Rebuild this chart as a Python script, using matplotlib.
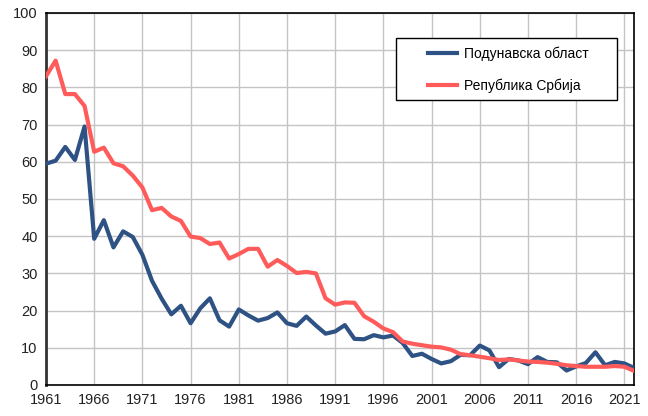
import matplotlib
matplotlib.use("Agg")
import matplotlib.pyplot as plt
from matplotlib.patches import Rectangle

plt.rcParams['font.family'] = ['Liberation Sans', 'DejaVu Sans']

years = list(range(1961, 2023))
podunavska = [59.5, 60.3, 64.0, 60.5, 69.5, 39.3, 44.3, 37.0, 41.3, 39.8,
              35.0, 28.0, 23.2, 19.0, 21.3, 16.6, 20.6, 23.3, 17.4, 15.7,
              20.3, 18.7, 17.3, 18.0, 19.5, 16.6, 15.9, 18.4, 16.0, 13.8,
              14.4, 16.1, 12.4, 12.3, 13.4, 12.8, 13.3, 11.3, 7.8, 8.4,
              7.0, 5.8, 6.4, 8.1, 8.0, 10.6, 9.3, 4.8, 7.0, 6.6,
              5.6, 7.5, 6.2, 6.1, 3.9, 5.0, 5.9, 8.8, 5.3, 6.2,
              5.8, 4.6]
srbija = [83.0, 87.2, 78.2, 78.2, 75.0, 62.7, 63.8, 59.6, 58.8, 56.3,
          53.1, 47.0, 47.6, 45.3, 44.1, 39.9, 39.5, 37.9, 38.3, 34.0,
          35.2, 36.6, 36.6, 31.8, 33.6, 32.0, 30.1, 30.4, 30.0, 23.3,
          21.6, 22.2, 22.1, 18.5, 17.0, 15.2, 14.2, 11.7, 11.1, 10.7,
          10.3, 10.1, 9.5, 8.3, 8.0, 7.6, 7.2, 6.7, 6.9, 6.6,
          6.3, 6.2, 6.0, 5.7, 5.3, 5.1, 4.9, 4.9, 4.9, 5.1,
          4.9, 3.8]
labels = ['Подунавска област', 'Република Србија']
xticks = list(range(1961, 2022, 5))
yticks = list(range(0, 101, 10))

fig = plt.figure(figsize=(6.48, 4.16), dpi=100)
ax = fig.add_axes([46/648, 31/416, 588/648, 372/416])

ax.plot(years, podunavska, color='#2E5283', lw=3.0, label=labels[0], solid_joinstyle='round', zorder=3)
ax.plot(years, srbija, color='#FF5B5B', lw=3.0, label=labels[1], solid_joinstyle='round', zorder=3)

ax.set_xlim(1961, 2022)
ax.set_ylim(0, 100)
ax.set_xticks(xticks)
ax.set_yticks(yticks)
ax.grid(True, color='#c4c4c4', lw=1.0, zorder=0)
ax.set_axisbelow(True)
ax.tick_params(length=0, labelsize=10.5, colors='#222222', pad=6)
for s in ['top', 'right', 'bottom']:
    ax.spines[s].set_color('black')
    ax.spines[s].set_linewidth(1.2)
ax.spines['left'].set_color('#333333')
ax.spines['left'].set_linewidth(2.0)

# legend frame drawn separately
ax.add_patch(Rectangle((0.595, 0.766), 0.376, 0.167, transform=ax.transAxes,
                       facecolor='white', edgecolor='black', lw=1.0, zorder=4))
leg = ax.legend(loc='upper left', bbox_to_anchor=(0.650, 0.91), fontsize=10,
                frameon=False, handlelength=2.1, handletextpad=0.45,
                labelspacing=1.25, borderpad=0, borderaxespad=0)
leg.set_zorder(5)

fig.savefig('out.png', dpi=100)
